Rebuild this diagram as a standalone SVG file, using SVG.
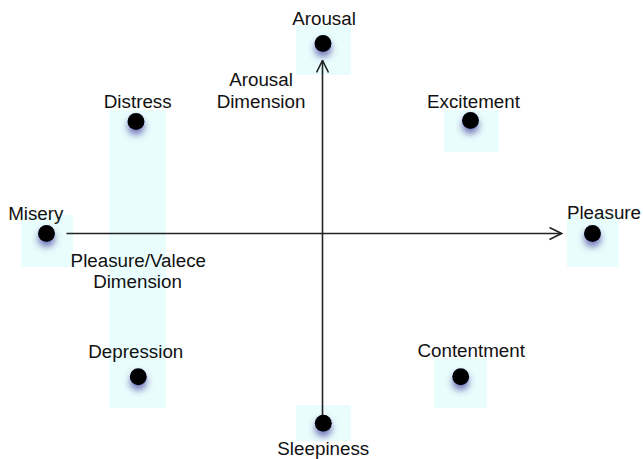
<svg xmlns="http://www.w3.org/2000/svg" width="643" height="459" viewBox="0 0 643 459">
  <style>
    .box { fill: #eafdfd; }
    .dot { fill: #000; filter: url(#sh); }
    .lbl { font-family: "Liberation Sans", Arial, sans-serif; font-size: 18.8px; fill: #111; text-anchor: middle; }
    .axis { stroke: #222; stroke-width: 1.6; fill: none; }
  </style>
  <defs>
    <filter id="sh" x="-100%" y="-100%" width="300%" height="300%">
      <feDropShadow dx="0" dy="5" stdDeviation="3.5" flood-color="#3a3a9a" flood-opacity="0.7"/>
    </filter>
    <marker id="arr" viewBox="0 0 14 14" refX="13" refY="7" markerWidth="14" markerHeight="14" markerUnits="userSpaceOnUse" orient="auto">
      <path d="M1,1 L13,7 L1,13" fill="none" stroke="#222" stroke-width="1.6"/>
    </marker>
  </defs>

  <rect class="box" x="109" y="110" width="57" height="298"/>

  <g id="arousal">
    <rect class="box" x="296" y="25" width="55" height="50"/>
    <circle class="dot" cx="323" cy="43.5" r="8.5"/>
    <text class="lbl" x="324" y="24.5">Arousal</text>
  </g>
  <g id="excitement">
    <rect class="box" x="444" y="110" width="55" height="42"/>
    <circle class="dot" cx="470.5" cy="120.5" r="8.5"/>
    <text class="lbl" x="473.5" y="108">Excitement</text>
  </g>
  <g id="distress">
    <circle class="dot" cx="136" cy="121.5" r="8.5"/>
    <text class="lbl" x="137.7" y="108.3">Distress</text>
  </g>
  <g id="misery">
    <rect class="box" x="21" y="215" width="52" height="52"/>
    <circle class="dot" cx="46.5" cy="233.5" r="8.5"/>
    <text class="lbl" x="35.8" y="219.5">Misery</text>
  </g>
  <g id="pleasure">
    <rect class="box" x="567" y="215" width="52" height="52"/>
    <circle class="dot" cx="592.5" cy="233.5" r="8.5"/>
    <text class="lbl" x="604" y="218.5">Pleasure</text>
  </g>
  <g id="depression">
    <circle class="dot" cx="138.3" cy="376.7" r="8.5"/>
    <text class="lbl" x="135.8" y="358.3">Depression</text>
  </g>
  <g id="contentment">
    <rect class="box" x="434" y="358" width="53" height="50"/>
    <circle class="dot" cx="460.7" cy="376.7" r="8.5"/>
    <text class="lbl" x="471.2" y="357">Contentment</text>
  </g>
  <g id="sleepiness">
    <rect class="box" x="296" y="405" width="55" height="36"/>
    <circle class="dot" cx="323.3" cy="423.3" r="8.5"/>
    <text class="lbl" x="323.3" y="455">Sleepiness</text>
  </g>

  <g id="connectors">
    <line class="axis" x1="66.5" y1="233.5" x2="561.5" y2="233.5" marker-end="url(#arr)"/>
    <line class="axis" x1="322.5" y1="415" x2="322.5" y2="60.5" marker-end="url(#arr)"/>
  </g>

  <g id="axis-labels">
    <text class="lbl" x="261" y="86">Arousal</text>
    <text class="lbl" x="261" y="108.3">Dimension</text>
    <text class="lbl" x="138.3" y="266.7">Pleasure/Valece</text>
    <text class="lbl" x="137.5" y="288.3">Dimension</text>
  </g>
</svg>
